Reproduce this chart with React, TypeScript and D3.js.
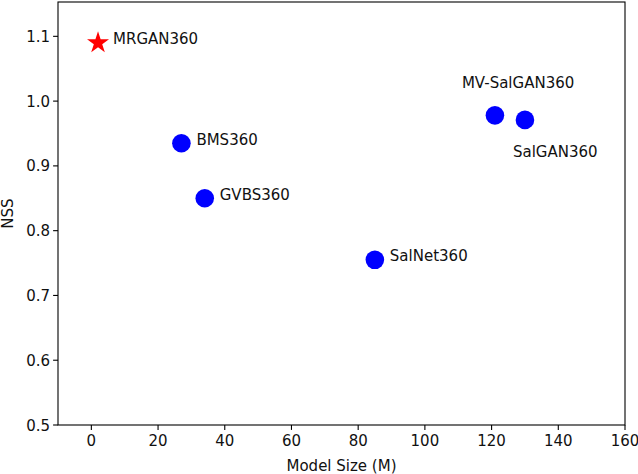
import React from 'react';
import * as d3 from 'd3';

const models = ['MRGAN360', 'BMS360', 'GVBS360', 'SalNet360', 'MV-SalGAN360', 'SalGAN360'];
const sizes = [2, 27, 34, 85, 121, 130];
const nss = [1.09, 0.935, 0.85, 0.755, 0.978, 0.971];
const labelPos = ['right', 'right', 'right', 'right', 'above', 'below'];
const xTicks = [0, 20, 40, 60, 80, 100, 120, 140, 160];
const yTicks = [0.5, 0.6, 0.7, 0.8, 0.9, 1.0, 1.1];

const WIDTH = 638,
    HEIGHT = 474;

const MARGIN = {
    LEFT: 58,
    RIGHT: 13,
    TOP: 2,
    BOTTOM: 49
};

const FONT = '"DejaVu Sans", sans-serif';
const FS = 15;

const App = () => {
    const x = d3.scaleLinear().domain([-10, 160]).range([MARGIN.LEFT, WIDTH - MARGIN.RIGHT]);
    const y = d3.scaleLinear().domain([0.5, 1.153]).range([HEIGHT - MARGIN.BOTTOM, MARGIN.TOP]);

    const star = d3.symbol().type(d3.symbolStar).size(150)();

    const points = models.map((m, i) => {
        const cx = x(sizes[i]),
            cy = y(nss[i]);
        const pos = labelPos[i];
        let tx = cx + 15, ty = cy + 1.5;
        if (pos === 'above') { tx = cx - 33; ty = cy - 27; }
        if (pos === 'below') { tx = cx - 12; ty = cy + 37; }
        return (
            <g key={m}>
                {i === 0
                    ? <path d={star as string} transform={`translate(${cx},${cy})`} fill='#ff0000' />
                    : <circle cx={cx} cy={cy} r={9.3} fill='#0000ff' />}
                <text x={tx} y={ty} fontSize={FS} fill='#111'>{m}</text>
            </g>
        );
    });

    const bottom = HEIGHT - MARGIN.BOTTOM;

    return (
        <svg width={WIDTH} height={HEIGHT} style={{ position: 'absolute', left: 0, top: 0, background: '#fff' }} fontFamily={FONT}>
            <rect x={0} y={0} width={WIDTH} height={HEIGHT} fill='#fff' />
            {points}
            <rect x={MARGIN.LEFT} y={MARGIN.TOP} width={WIDTH - MARGIN.LEFT - MARGIN.RIGHT} height={bottom - MARGIN.TOP}
                fill='none' stroke='#000' strokeWidth={1.1} />
            {xTicks.map(t => (
                <g key={`x-${t}`}>
                    <line x1={x(t)} x2={x(t)} y1={bottom} y2={bottom + 4.9} stroke='#000' strokeWidth={1.1} />
                    <text x={x(t)} y={bottom + 21} textAnchor='middle' fontSize={FS} fill='#111'>{t}</text>
                </g>
            ))}
            {yTicks.map(t => (
                <g key={`y-${t}`}>
                    <line x1={MARGIN.LEFT - 4.9} x2={MARGIN.LEFT} y1={y(t)} y2={y(t)} stroke='#000' strokeWidth={1.1} />
                    <text x={MARGIN.LEFT - 8} y={y(t) + 5.5} textAnchor='end' fontSize={FS} fill='#111'>{t.toFixed(1)}</text>
                </g>
            ))}
            <text x={(MARGIN.LEFT + WIDTH - MARGIN.RIGHT) / 2} y={HEIGHT - 3} textAnchor='middle' fontSize={FS} fill='#111'>Model Size (M)</text>
            <text transform={`translate(13,${(MARGIN.TOP + bottom) / 2}) rotate(-90)`} textAnchor='middle' fontSize={FS} fill='#111'>NSS</text>
        </svg>
    );
};

export default App;
